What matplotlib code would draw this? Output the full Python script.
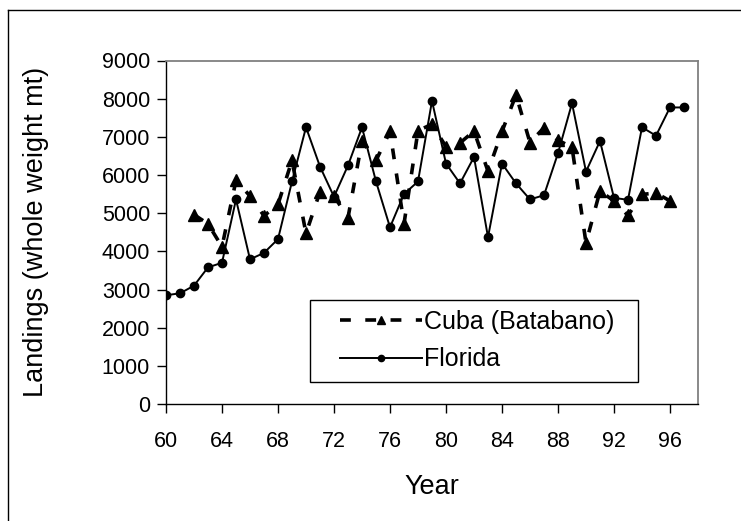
import matplotlib
matplotlib.use("Agg")
import matplotlib.pyplot as plt
from matplotlib.lines import Line2D
from matplotlib.patches import Rectangle

plt.rcParams['font.family'] = ['Liberation Sans', 'DejaVu Sans']

# data
years_florida = list(range(60, 98))
florida = [2850, 2900, 3100, 3580, 3700, 5360, 3790, 3960, 4320, 5830,
           7250, 6220, 5430, 6250, 7250, 5830, 4630, 5500, 5830, 7940,
           6300, 5780, 6470, 4370, 6300, 5780, 5360, 5470, 6570, 7880,
           6090, 6890, 5400, 5350, 7250, 7030, 7770, 7770]

years_cuba = list(range(62, 97))
cuba = [4960, 4720, 4120, 5860, 5450, 4930, 5230, 6380, 4470, 5560,
        5450, 4880, 6890, 6380, 7140, 4720, 7160, 7330, 6740, 6840,
        7150, 6100, 7140, 8100, 6850, 7240, 6910, 6730, 4220, 5580,
        5320, 4940, 5490, 5530, 5320]

xticks = list(range(60, 100, 4))
yticks = list(range(0, 10000, 1000))

W, H = 741, 521
fig = plt.figure(figsize=(W / 100, H / 100), dpi=100)
ax = fig.add_axes([166 / W, 1 - 404 / H, (698 - 166) / W, (404 - 60.5) / H])

ax.plot(years_cuba, cuba, color='black', lw=2.6, dashes=(3, 4),
        dash_capstyle='butt', marker='^', markersize=8, label='Cuba (Batabano)')
ax.plot(years_florida, florida, color='black', lw=1.4, marker='o',
        markersize=6, label='Florida')

ax.set_xlim(60, 98)
ax.set_ylim(0, 9000)
ax.set_xticks(xticks)
ax.set_yticks(yticks)
ax.tick_params(direction='out', length=6.5, width=1, labelsize=15.5, pad=5)
ax.tick_params(axis='x', pad=13)
for s in ['left', 'bottom']:
    ax.spines[s].set_color('black')
    ax.spines[s].set_linewidth(1)
for s in ['top', 'right']:
    ax.spines[s].set_color('#808080')
    ax.spines[s].set_linewidth(1.3)

ax.set_xlabel('Year', fontsize=19.5)
ax.xaxis.set_label_coords(0.5, -0.203)
ax.set_ylabel('Landings (whole weight mt)', fontsize=19.5)
ax.yaxis.set_label_coords(-0.219, 0.5)

# legend box drawn separately so the padding matches the reference
ax.add_patch(Rectangle((0.2707, 0.064), 0.6165, 0.2387, transform=ax.transAxes,
                       facecolor='white', edgecolor='black', lw=1, zorder=4))
leg = ax.legend(loc='upper left', bbox_to_anchor=(0.327, 0.275),
                fontsize=18, frameon=False, handlelength=3.3,
                borderaxespad=0, borderpad=0, handletextpad=0.08,
                labelspacing=0.55, markerscale=0.75)
leg.set_zorder(5)

# outer chart border (left and top edges visible)
fig.add_artist(Line2D([8 / W, 8 / W], [0, 1 - 10 / H], color='black', lw=1))
fig.add_artist(Line2D([8 / W, 1], [1 - 10 / H, 1 - 10 / H], color='black', lw=1))

fig.savefig('out.png', dpi=100)
